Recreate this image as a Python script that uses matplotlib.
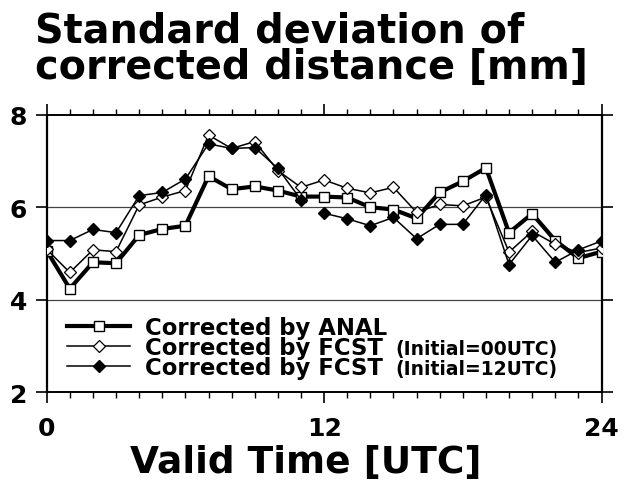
import numpy as np
import matplotlib
matplotlib.use("Agg")
import matplotlib.pyplot as plt
from matplotlib.ticker import MultipleLocator, FixedLocator
from matplotlib.lines import Line2D
from matplotlib.font_manager import FontProperties
import matplotlib.transforms as mtransforms

# ---------------- data ----------------
hours = list(range(0, 25))
anal = [5.06, 4.24, 4.81, 4.79, 5.40, 5.53, 5.60, 6.67, 6.39, 6.45, 6.36, 6.23, 6.23,
        6.21, 6.00, 5.95, 5.76, 6.32, 6.56, 6.85, 5.45, 5.86, 5.28, 4.90, 5.04]
fcst00 = [5.09, 4.59, 5.08, 5.04, 6.05, 6.22, 6.36, 7.56, 7.27, 7.42, 6.79, 6.43, 6.59,
          6.41, 6.31, 6.43, 5.89, 6.06, 6.03, 6.22, 5.03, 5.48, 5.20, 5.02, 5.12]
fcst12 = [5.28, 5.28, 5.52, 5.45, 6.25, 6.32, 6.61, 7.37, 7.27, 7.29, 6.84, 6.16, 5.87,
          5.75, 5.60, 5.78, 5.32, 5.63, 5.63, 6.27, 4.76, 5.39, 4.81, 5.08, 5.27]
fcst12_break = 12  # line is interrupted between 11 and 12 UTC

labels = ["Corrected by ANAL", "Corrected by FCST", "Corrected by FCST"]
label_notes = ["(Initial=00UTC)", "(Initial=12UTC)"]
title_lines = ["Standard deviation of", "corrected distance [mm]"]
xlabel = "Valid Time [UTC]"
xticks_major = [0, 12, 24]
yticks = [2, 4, 6, 8]

FONT = "DejaVu Sans"
plt.rcParams["font.family"] = [FONT]
plt.rcParams["font.weight"] = "bold"

W, H = 629, 481
DPI = 100
fig = plt.figure(figsize=(W / DPI, H / DPI), dpi=DPI)
L, R, T, B = 46.7, 601.5, 115.7, 393.3
ax = fig.add_axes([L / W, 1 - B / H, (R - L) / W, (B - T) / H])
renderer = fig.canvas.get_renderer()
ident = mtransforms.IdentityTransform()


def fp(size):
    return FontProperties(family=FONT, weight="bold", size=size)


def lp_metrics(size):
    _, hh, dd = renderer.get_text_width_height_descent("lp", fp(size), ismath=False)
    return hh - dd, dd  # ascent, descent


def spacing_for(pitch, size):
    asc, dsc = lp_metrics(size)
    return (pitch - dsc) / asc


def width_px(s, size):
    ww, _, _ = renderer.get_text_width_height_descent(s, fp(size), ismath=False)
    return ww


ax.set_xlim(0, 24)
ax.set_ylim(2, 8)

# grid lines
for yv in [4, 6]:
    ax.axhline(yv, color="#444444", lw=0.9, zorder=1)

h = np.array(hours)
st_anal = dict(color="black", lw=3.0, marker="s", ms=7.8, mfc="white", mec="black", mew=1.0)
st_00 = dict(color="black", lw=1.1, marker="D", ms=5.8, mfc="white", mec="black", mew=0.9)
st_12 = dict(color="black", lw=1.1, marker="D", ms=5.8, mfc="black", mec="black")
ax.plot(h, anal, zorder=3, **st_anal)
ax.plot(h, fcst00, zorder=4, **st_00)
f12 = np.array(fcst12)
ax.plot(h[:fcst12_break], f12[:fcst12_break], zorder=5, **st_12)
ax.plot(h[fcst12_break:], f12[fcst12_break:], zorder=5, **st_12)

# spines / ticks
for s in ["left", "right"]:
    ax.spines[s].set_linewidth(1.6)
for s in ["top", "bottom"]:
    ax.spines[s].set_linewidth(1.4)
ax.xaxis.set_major_locator(FixedLocator(xticks_major))
ax.xaxis.set_minor_locator(MultipleLocator(1))
ax.yaxis.set_major_locator(FixedLocator(yticks))
ax.tick_params(axis="x", which="major", direction="out", length=8, width=1.2,
               top=True, bottom=True, labelsize=18, pad=9)
ax.tick_params(axis="x", which="minor", direction="out", length=4, width=1.0,
               top=True, bottom=True)
ax.tick_params(axis="y", which="major", direction="out", length=8, width=1.2,
               left=True, right=True, labelsize=18, pad=6)
for t in ax.get_xticklabels() + ax.get_yticklabels():
    t.set_fontweight("bold")

# legend keys (labels drawn as one text block below)
key_pt = 10
key_px = key_pt * DPI / 72
pitch = 20.0
_, lh, ld = renderer.get_text_width_height_descent("lp", fp(key_pt), ismath=False)
row_h = max(0.7 * key_px, lh)
handles = [Line2D([], [], **st_anal), Line2D([], [], **st_00), Line2D([], [], **st_12)]
leg = ax.legend(handles, ["", "", ""], loc="center left", bbox_to_anchor=(0.0366, 0.163),
                frameon=False, borderpad=0, borderaxespad=0,
                handlelength=63 / key_px, handletextpad=0,
                labelspacing=(pitch - row_h) / key_px, prop=fp(key_pt))

fig.canvas.draw()
hb = [hd.get_window_extent(renderer) for hd in leg.legend_handles]
centers = [(b.y0 + b.y1) / 2 for b in hb]
lx0 = leg.get_window_extent(renderer).x0

big_pt = 16.4
big_px = big_pt * DPI / 72
cap = 0.729 * big_px
text_x = lx0 + 78
real_pitch = (centers[0] - centers[2]) / 2
# va="baseline" on multi-line text anchors the LAST line's baseline
fig.text(text_x, centers[2] - cap / 2, "\n".join(labels), ha="left", va="baseline",
         fontsize=big_pt, fontweight="bold", transform=ident,
         linespacing=spacing_for(real_pitch, big_pt))

small_pt = 13.5
note_x = text_x + width_px(labels[1], big_pt) + 12
fig.text(note_x, centers[2] - cap / 2, "\n".join(label_notes), ha="left", va="baseline",
         fontsize=small_pt, fontweight="bold", transform=ident,
         linespacing=spacing_for(real_pitch, small_pt))

# title and x label
title_pt = 28.6
fig.text(35, H - 79, "\n".join(title_lines), ha="left", va="baseline", fontsize=title_pt,
         fontweight="bold", transform=ident, linespacing=spacing_for(36, title_pt))
fig.text(306 / W, 1 - 473 / H, xlabel, ha="center", va="baseline", fontsize=27,
         fontweight="bold")

fig.savefig("out.png", dpi=DPI)
